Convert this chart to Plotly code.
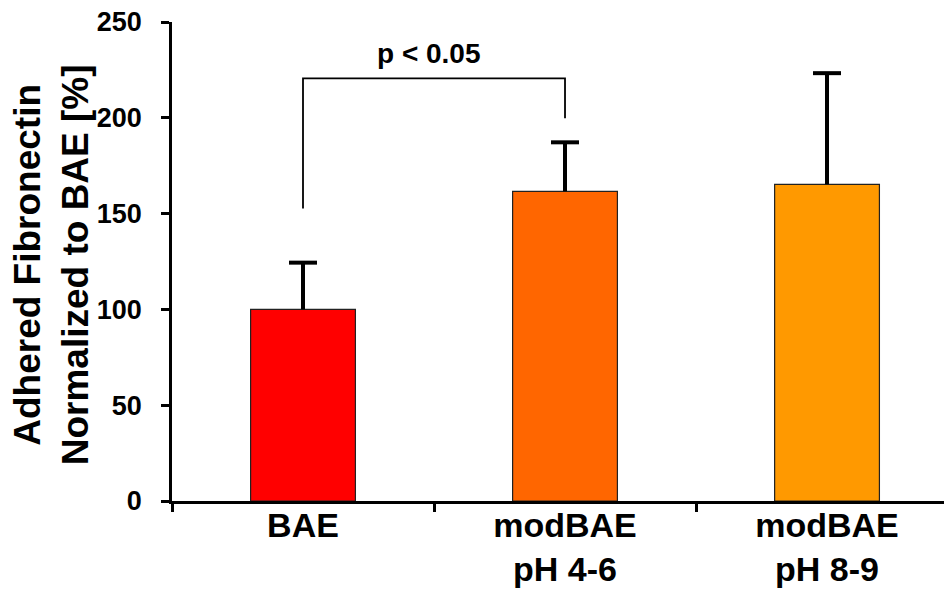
import plotly.graph_objects as go

categories = ["BAE", "modBAE<br>pH 4-6", "modBAE<br>pH 8-9"]
values = [100.0, 161.6, 165.3]
errors_up = [24.4, 25.6, 58.0]
colors = ["#FF0000", "#FF6600", "#FF9900"]

bracket_x = [categories[0], categories[0], categories[1], categories[1]]
bracket_y = [152.7, 220.6, 220.6, 199.7]
p_label = "p < 0.05"
p_pos = (0.48, 233.5)

y_ticks = [0, 50, 100, 150, 200, 250]
y_title = "Adhered Fibronectin<br>Normalized to BAE [%]"

FONT = "Arial, Liberation Sans, sans-serif"

err_top = [v + e for v, e in zip(values, errors_up)]

fig = go.Figure()
fig.add_trace(go.Bar(
    x=categories, y=values, width=0.4,
    marker=dict(color=colors, line=dict(color="#222222", width=1.2)),
    error_y=dict(type="data", symmetric=False, array=errors_up, arrayminus=[0, 0, 0],
                 color="black", thickness=4, width=0),
    showlegend=False, hoverinfo="skip",
))
# error bar caps
fig.add_trace(go.Scatter(
    x=categories, y=err_top, mode="markers",
    marker=dict(symbol="line-ew", size=20, line=dict(color="black", width=4)),
    showlegend=False, hoverinfo="skip",
))
fig.add_trace(go.Scatter(
    x=bracket_x, y=bracket_y, mode="lines",
    line=dict(color="black", width=1.8), showlegend=False, hoverinfo="skip",
))

fig.add_annotation(x=p_pos[0], y=p_pos[1], xref="x", yref="y", text=p_label,
                   showarrow=False, xanchor="center", yanchor="middle",
                   font=dict(family=FONT, size=28, color="black", weight="bold"))

fig.add_annotation(x=-0.1535, y=0.4927, xref="paper", yref="paper", text=y_title,
                   showarrow=False, textangle=-90, xanchor="center", yanchor="middle",
                   font=dict(family=FONT, size=37, color="black", weight="bold"))

# page body has an 8px default margin, so the figure is sized/offset to compensate
fig.update_layout(
    width=944, height=581,
    margin=dict(l=164, r=0, t=14, b=88, autoexpand=False),
    plot_bgcolor="white", paper_bgcolor="white",
    font=dict(family=FONT, color="black"),
)
fig.update_xaxes(
    type="category", range=[-0.5, 2.477], automargin=False,
    showline=True, linecolor="black", linewidth=2.5,
    ticks="outside", ticklen=8, tickwidth=2.5, tickcolor="black",
    tickson="boundaries", showgrid=False, zeroline=False, ticklabelstandoff=-8,
    ticklabeloverflow="allow",
    tickfont=dict(family=FONT, size=34, color="black", weight="bold"),
)
fig.update_yaxes(
    range=[0, 250], tickvals=y_ticks, automargin=False,
    showline=True, linecolor="black", linewidth=2.5,
    ticks="outside", ticklen=8, tickwidth=2.5, tickcolor="black",
    showgrid=False, zeroline=False, ticklabelstandoff=14,
    ticklabeloverflow="allow",
    tickfont=dict(family=FONT, size=27, color="black", weight="bold"),
)

fig.write_html("out.html")
